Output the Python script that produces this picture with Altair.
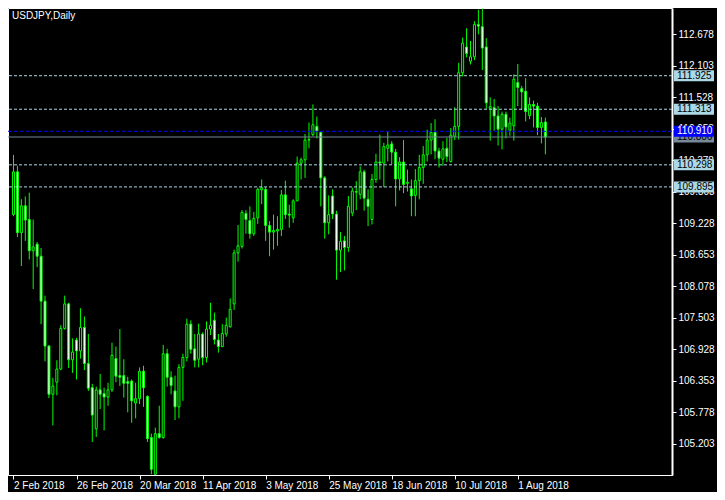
import json
import altair as alt
import pandas as pd

# ---- data (USDJPY daily, 2 Feb 2018 .. 10 Aug 2018) ----
opens = [109.39, 110.17, 109.06, 109.55, 109.30, 108.73, 108.85, 108.63, 107.81, 106.99,
         106.11, 106.33, 106.57, 107.31, 107.76, 106.74, 107.10, 106.90, 107.33, 106.67,
         106.23, 105.48, 106.19, 106.12, 106.06, 106.19, 106.76, 106.45, 106.45, 106.34,
         106.35, 105.95, 106.03, 106.53, 106.07, 105.32, 104.65, 105.39, 105.32, 106.85,
         106.42, 106.17, 105.88, 106.60, 106.78, 107.39, 106.94, 106.75, 107.21, 106.78,
         107.30, 107.46, 107.10, 106.98, 107.21, 107.34, 107.76, 108.69, 108.81, 109.41,
         109.28, 109.04, 109.33, 109.84, 109.85, 109.19, 109.07, 109.09, 109.12, 109.75,
         109.40, 109.33, 109.64, 110.33, 110.39, 110.75, 110.85, 111.00, 110.89, 110.06,
         109.24, 109.73, 109.40, 108.74, 108.91, 108.79, 109.42, 109.81, 109.76, 110.17,
         109.67, 109.30, 110.03, 110.35, 110.33, 110.60, 110.68, 110.53, 110.04, 110.35,
         109.96, 109.86, 109.74, 110.01, 110.25, 110.48, 110.75, 110.89, 110.55, 110.40,
         110.60, 110.36, 110.82, 111.00, 111.98, 112.45, 112.19, 112.27, 112.86, 112.82,
         112.45, 111.33, 111.34, 111.19, 110.95, 111.22, 110.93, 111.01, 111.80, 111.69,
         111.64, 111.20, 111.40, 111.37, 110.98, 111.08]
highs = [110.48, 110.28, 109.67, 109.72, 109.79, 109.30, 108.89, 108.78, 107.91, 107.01,
         106.41, 106.73, 107.37, 107.91, 107.78, 107.13, 107.14, 107.68, 107.53, 107.21,
         106.30, 106.25, 106.48, 106.23, 106.32, 107.05, 106.98, 107.30, 106.75, 106.43,
         106.38, 106.32, 106.60, 106.63, 106.09, 105.39, 105.50, 105.90, 107.01, 106.94,
         106.53, 106.45, 106.66, 106.85, 107.49, 107.46, 107.21, 107.40, 107.24, 107.44,
         107.78, 107.60, 107.21, 107.39, 107.51, 107.86, 108.75, 109.20, 109.47, 109.47,
         109.54, 109.44, 109.88, 110.03, 109.89, 109.27, 109.39, 109.36, 109.84, 110.01,
         109.57, 109.67, 110.45, 110.43, 110.86, 111.07, 111.40, 111.18, 110.91, 110.09,
         109.74, 109.85, 109.46, 109.07, 109.00, 109.73, 109.88, 110.00, 110.27, 110.21,
         109.85, 110.13, 110.50, 110.85, 110.70, 110.90, 110.73, 110.59, 110.44, 110.75,
         110.21, 110.03, 110.22, 110.48, 110.64, 110.94, 111.06, 111.13, 110.61, 110.73,
         110.79, 110.97, 111.35, 112.16, 112.62, 112.79, 112.56, 112.92, 113.13, 113.15,
         112.61, 111.53, 111.50, 111.37, 111.27, 111.27, 111.16, 111.95, 112.14, 111.74,
         111.88, 111.53, 111.47, 111.43, 111.17, 111.16]
lows = [109.36, 108.98, 108.45, 108.91, 108.57, 108.03, 108.43, 107.39, 106.71, 106.04,
        105.54, 106.09, 106.55, 107.29, 106.59, 106.50, 106.38, 106.76, 106.55, 106.17,
        105.24, 105.33, 105.84, 105.45, 105.90, 106.15, 106.33, 106.26, 106.05, 105.78,
        105.59, 105.67, 105.93, 105.88, 105.24, 104.65, 104.64, 105.30, 105.30, 106.25,
        106.11, 105.64, 105.67, 105.99, 106.71, 106.85, 106.60, 106.60, 106.64, 106.69,
        107.19, 107.02, 106.87, 106.97, 107.16, 107.33, 107.65, 108.53, 108.77, 109.04,
        108.95, 109.00, 109.22, 109.58, 108.91, 108.63, 108.75, 108.82, 109.00, 109.31,
        109.15, 109.24, 109.64, 110.03, 110.06, 110.60, 110.82, 110.78, 109.54, 108.95,
        109.03, 109.31, 108.20, 108.34, 108.37, 108.71, 109.36, 109.47, 109.67, 109.46,
        109.18, 109.21, 109.97, 110.03, 109.89, 110.36, 110.31, 109.54, 109.83, 109.78,
        109.81, 109.36, 109.36, 109.67, 109.95, 110.36, 110.49, 110.40, 110.25, 110.28,
        110.35, 110.34, 110.75, 110.76, 111.91, 112.26, 112.13, 112.21, 112.68, 112.03,
        111.32, 110.74, 110.92, 110.65, 110.58, 110.78, 110.83, 110.74, 111.37, 111.30,
        111.09, 111.13, 110.98, 110.84, 110.69, 110.49]
closes = [110.17, 109.06, 109.55, 109.29, 108.73, 108.80, 108.63, 107.81, 106.99, 106.11,
          106.26, 106.57, 107.31, 107.76, 106.74, 106.88, 106.90, 107.33, 106.67, 106.22,
          105.73, 106.19, 106.11, 106.06, 106.19, 106.82, 106.44, 106.42, 106.31, 106.31,
          105.99, 106.03, 106.53, 106.23, 105.30, 104.74, 105.39, 105.32, 106.85, 106.42,
          106.27, 105.88, 106.60, 106.78, 107.39, 106.93, 106.73, 107.21, 106.78, 107.30,
          107.37, 107.11, 106.98, 107.22, 107.37, 107.66, 108.69, 108.82, 109.43, 109.30,
          109.04, 109.32, 109.85, 109.88, 109.19, 109.07, 109.10, 109.12, 109.75, 109.39,
          109.38, 109.64, 110.33, 110.39, 110.75, 110.76, 111.03, 110.91, 110.06, 109.24,
          109.39, 109.40, 108.74, 108.90, 108.79, 109.54, 109.82, 109.80, 110.17, 109.69,
          109.54, 110.03, 110.35, 110.33, 110.63, 110.66, 110.53, 110.04, 110.35, 109.94,
          109.98, 109.73, 110.01, 110.25, 110.48, 110.75, 110.89, 110.55, 110.42, 110.59,
          110.45, 110.84, 111.00, 111.98, 112.52, 112.33, 112.27, 112.86, 112.83, 112.43,
          111.43, 111.36, 111.19, 110.95, 111.22, 110.99, 111.06, 111.86, 111.71, 111.63,
          111.27, 111.40, 111.37, 110.98, 111.07, 110.806]

x_tick_index = [0, 16, 32, 48, 64, 80, 96, 112, 128]
x_tick_labels = ["2 Feb 2018", "26 Feb 2018", "20 Mar 2018", "11 Apr 2018", "3 May 2018",
                 "25 May 2018", "18 Jun 2018", "10 Jul 2018", "1 Aug 2018"]
y_ticks = [105.203, 105.778, 106.353, 106.928, 107.503, 108.078, 108.653,
           109.228, 109.803, 110.378, 110.953, 111.528, 112.103, 112.678]
level_prices = [111.925, 111.313, 110.298, 109.895]
signal_level = [110.910]
bid_level = [110.806]
title_text = ["USDJPY,Daily"]

# ---- styling ----
W, H = 664, 467
FONT = "Liberation Sans"
GREEN = "#00FF00"
LIGHTBLUE = "#ADD8E6"
BLUE = "#0000FF"
GRAY = "#778899"

df = pd.DataFrame({"i": list(range(len(opens))), "open": opens, "high": highs,
                   "low": lows, "close": closes})
df["dir"] = ["up" if c >= o else "down" for o, c in zip(opens, closes)]

x_scale = alt.Scale(domain=[-0.125, 165.875], nice=False, zero=False)
y_scale = alt.Scale(domain=[104.636, 113.161], nice=False, zero=False)

label_expr = f"{json.dumps(x_tick_labels)}[indexof({json.dumps(x_tick_index)}, datum.value)]"

x_axis = alt.Axis(values=x_tick_index, labelExpr=label_expr, title=None, orient="bottom",
                  grid=False, tickSize=4, labelAlign="left", labelBaseline="top",
                  labelPadding=1, labelFlush=False, labelOverlap=False, labelBound=False,
                  domainColor="white", tickColor="white", labelColor="white",
                  labelFont=FONT, labelFontSize=10)
y_axis = alt.Axis(values=y_ticks, format=".3f", title=None, orient="right", grid=False,
                  tickSize=4, labelPadding=2, labelFlush=False, labelOverlap=False,
                  labelBound=False, domainColor="white", domainWidth=2, tickColor="white",
                  labelColor="white", labelFont=FONT, labelFontSize=10)

X = alt.X("i:Q", scale=x_scale, axis=x_axis)

wicks = alt.Chart(df).mark_rule(color=GREEN, strokeWidth=1, clip=True).encode(
    x=X,
    y=alt.Y("low:Q", scale=y_scale, axis=y_axis),
    y2="high:Q",
)
bodies = alt.Chart(df).mark_bar(size=2, stroke=GREEN, strokeWidth=1, clip=True).encode(
    x=X,
    y=alt.Y("open:Q", scale=y_scale, axis=y_axis),
    y2="close:Q",
    fill=alt.Fill("dir:N", scale=alt.Scale(domain=["up", "down"], range=["#000000", "#FFFFFF"]),
                  legend=None),
)

lv = pd.DataFrame({"price": level_prices, "label": [f"{p:.3f}" for p in level_prices]})
sg = pd.DataFrame({"price": signal_level, "label": [f"{p:.3f}" for p in signal_level]})
bd = pd.DataFrame({"price": bid_level, "label": [f"{p:.3f}" for p in bid_level]})

Yp = alt.Y("price:Q", scale=y_scale, axis=y_axis)

def level_layers(data, color, text_color, dash):
    if dash:
        line = alt.Chart(data).mark_rule(color=color, strokeWidth=1, strokeDash=dash).encode(y=Yp)
    else:
        line = alt.Chart(data).mark_rule(color=color, strokeWidth=1).encode(y=Yp)
    box = alt.Chart(data).mark_rule(color=color, strokeWidth=11, strokeCap="butt").encode(
        x=alt.value(W + 2), x2=alt.value(W + 42), y=Yp)
    txt = alt.Chart(data).mark_text(align="left", baseline="middle", font=FONT, fontSize=10,
                                    color=text_color).encode(
        x=alt.value(W + 5), y=Yp, text="label:N")
    return [line, box, txt]

title = alt.Chart(pd.DataFrame({"t": title_text})).mark_text(
    align="left", baseline="top", font=FONT, fontSize=10, color="white").encode(
    x=alt.value(4), y=alt.value(3), text="t:N")

layers = [wicks, bodies]
layers += level_layers(bd, GRAY, "#000000", None)
layers += level_layers(sg, BLUE, "#FFFFFF", [4, 2])
layers += level_layers(lv, LIGHTBLUE, "#000000", [3, 2])
layers += [title]

chart = alt.layer(*layers).properties(
    width=W, height=H, background="#000000",
    padding={"left": 0, "top": 0, "right": 45, "bottom": 17},
    autosize=alt.AutoSizeParams(type="none"),
).configure_view(fill="#000000", stroke="white", strokeWidth=1)

chart.save("out.html", embed_options={"renderer": "svg", "actions": False})
